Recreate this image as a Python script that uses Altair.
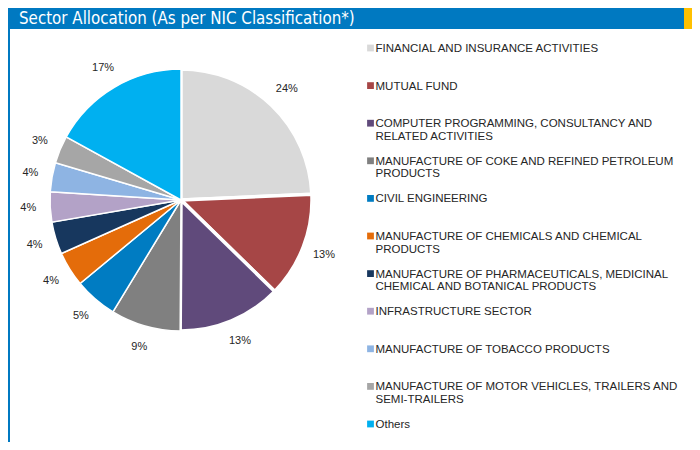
import altair as alt
import pandas as pd

title_text = "Sector Allocation (As per NIC Classification*)"

categories = [
    "FINANCIAL AND INSURANCE ACTIVITIES",
    "MUTUAL FUND",
    "COMPUTER PROGRAMMING, CONSULTANCY AND RELATED ACTIVITIES",
    "MANUFACTURE OF COKE AND REFINED PETROLEUM PRODUCTS",
    "CIVIL ENGINEERING",
    "MANUFACTURE OF CHEMICALS AND CHEMICAL PRODUCTS",
    "MANUFACTURE OF PHARMACEUTICALS, MEDICINAL CHEMICAL AND BOTANICAL PRODUCTS",
    "INFRASTRUCTURE SECTOR",
    "MANUFACTURE OF TOBACCO PRODUCTS",
    "MANUFACTURE OF MOTOR VEHICLES, TRAILERS AND SEMI-TRAILERS",
    "Others",
]

legend_labels = [
    "FINANCIAL AND INSURANCE ACTIVITIES",
    "MUTUAL FUND",
    "COMPUTER PROGRAMMING, CONSULTANCY AND\nRELATED ACTIVITIES",
    "MANUFACTURE OF COKE AND REFINED PETROLEUM\nPRODUCTS",
    "CIVIL ENGINEERING",
    "MANUFACTURE OF CHEMICALS AND CHEMICAL\nPRODUCTS",
    "MANUFACTURE OF PHARMACEUTICALS, MEDICINAL\nCHEMICAL AND BOTANICAL PRODUCTS",
    "INFRASTRUCTURE SECTOR",
    "MANUFACTURE OF TOBACCO PRODUCTS",
    "MANUFACTURE OF MOTOR VEHICLES, TRAILERS AND\nSEMI-TRAILERS",
    "Others",
]

values = [24.3, 13.0, 12.8, 8.6, 5.3, 4.3, 4.0, 3.7, 3.6, 3.4, 17.0]
pct_labels = ["24%", "13%", "13%", "9%", "5%", "4%", "4%", "4%", "4%", "3%", "17%"]

colors = [
    "#D9D9D9", "#A64646", "#604A7B", "#808080", "#007CC2", "#E46C0A",
    "#17375E", "#B3A2C7", "#8EB4E3", "#A6A6A6", "#00B0F0",
]

df = pd.DataFrame({
    "idx": list(range(len(categories))),
    "category": categories,
    "legend": legend_labels,
    "value": values,
    "pct": pct_labels,
})
title_df = pd.DataFrame({"title": [title_text]})

CX, CY = 173, 192
BLUE = "#0079C1"

color_scale = alt.Scale(domain=categories, range=colors)
y_scale = alt.Scale(domain=[0, 10], range=[40, 416])

bar = alt.Chart(title_df).mark_rect(color=BLUE).encode(
    x=alt.value(0), x2=alt.value(676), y=alt.value(0), y2=alt.value(21)
)
yellow = alt.Chart(title_df).mark_rect(color="#FFC000").encode(
    x=alt.value(676), x2=alt.value(684), y=alt.value(0), y2=alt.value(21)
)
side = alt.Chart(title_df).mark_rect(color=BLUE).encode(
    x=alt.value(0), x2=alt.value(2), y=alt.value(21), y2=alt.value(434)
)
title = alt.Chart(title_df).mark_text(
    align="left", baseline="middle", color="white",
    font="Liberation Sans Narrow, DejaVu Sans Condensed, Liberation Sans",
    fontSize=16.8,
).encode(x=alt.value(11), y=alt.value(10.5), text="title:N")

arcs = alt.Chart(df).mark_arc(outerRadius=131, stroke="white").encode(
    theta=alt.Theta("value:Q", stack=True),
    order=alt.Order("idx:Q", sort="ascending"),
    color=alt.Color("category:N", scale=color_scale, legend=None),
    strokeWidth=alt.condition("datum.idx < 3", alt.value(3.5), alt.value(1.5)),
    x=alt.value(CX), y=alt.value(CY),
)

pcts = alt.Chart(df).mark_text(
    radius=153, font="Liberation Sans, Arial, sans-serif", fontSize=11, color="#262626"
).encode(
    theta=alt.Theta("value:Q", stack=True),
    order=alt.Order("idx:Q", sort="ascending"),
    text="pct:N",
    x=alt.value(CX), y=alt.value(CY),
)

squares = alt.Chart(df).mark_square(size=46, opacity=1).encode(
    x=alt.value(362.5),
    y=alt.Y("idx:Q", scale=y_scale, axis=None),
    color=alt.Color("category:N", scale=color_scale, legend=None),
)

legend_text = alt.Chart(df).mark_text(
    align="left", baseline="top", dy=-5, lineBreak="\n", lineHeight=12.5,
    font="Liberation Sans, Arial, sans-serif", fontSize=11.5, color="#262626",
).encode(
    x=alt.value(367.5),
    y=alt.Y("idx:Q", scale=y_scale, axis=None),
    text="legend:N",
)

chart = alt.layer(
    bar, yellow, side, title, arcs, pcts, squares, legend_text
).properties(
    width=684, height=434, padding=0, autosize=alt.AutoSizeParams(type="none")
).configure_view(stroke=None)

chart.save("out.html", embed_options={"renderer": "svg", "actions": False})
